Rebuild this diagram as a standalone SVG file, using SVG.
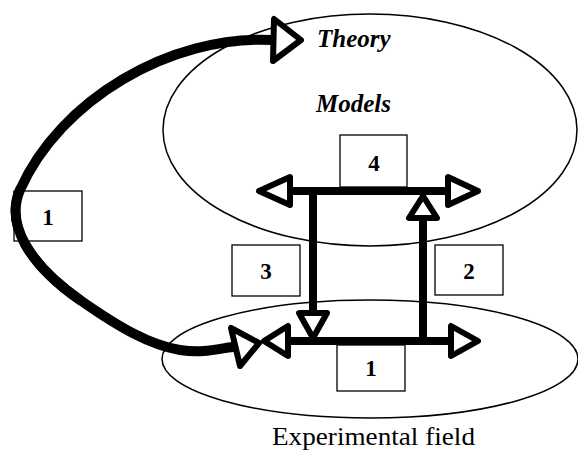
<svg xmlns="http://www.w3.org/2000/svg" width="578" height="451" viewBox="0 0 578 451">
<style>
.ell{fill:none;stroke:#000;stroke-width:1.5}
.box{fill:#fff;stroke:#000;stroke-width:1.3}
.num{font-family:'Liberation Serif',serif;font-weight:bold;font-size:23px;text-anchor:middle}
.lbl{font-family:'Liberation Serif',serif;font-weight:bold;font-style:italic;font-size:25px}
.ln{fill:none;stroke:#000;stroke-width:8}
.head{fill:#fff;stroke:#000;stroke-width:6;stroke-linejoin:round}
.curve{fill:none;stroke:#000;stroke-width:10;stroke-linecap:round}
</style>
<rect width="578" height="451" fill="#fff"/>
<g id="theory-field">
<ellipse class="ell" cx="370" cy="130" rx="207" ry="116"/>
<text class="lbl" x="317" y="47">Theory</text>
<text class="lbl" x="316" y="112">Models</text>
</g>
<g id="experimental-field">
<ellipse class="ell" cx="370" cy="359" rx="208" ry="59"/>
<text x="272" y="445" font-family="'Liberation Serif', serif" font-size="26" textLength="203" lengthAdjust="spacingAndGlyphs">Experimental field</text>
</g>
<g id="connectors">
<path class="curve" d="M272 40 C170 35 60 100 20 190 C5 225 30 265 80 300 C120 328 150 345 180 350 C205 354 220 348 240 346"/>
<polygon class="head" points="274,19 273,61 301,40"/>
<polygon class="head" points="231,328 240,366 259,343"/>
<line class="ln" x1="288" y1="191" x2="449" y2="191"/>
<line class="ln" x1="313" y1="191" x2="313" y2="313"/>
<line class="ln" x1="423" y1="341" x2="423" y2="218"/>
<line class="ln" x1="286" y1="341" x2="451" y2="341"/>
<polygon class="head" points="259,191 290,177 290,205"/>
<polygon class="head" points="478,191 448,177 448,205"/>
<polygon class="head" points="313,338 299,313 327,313"/>
<polygon class="head" points="423,196 409,218 437,218"/>
<polygon class="head" points="264,341 288,326 288,356"/>
<polygon class="head" points="478,341 451,326 451,356"/>
</g>
<g id="box4">
<rect class="box" x="340" y="135" width="67" height="52"/>
<text class="num" x="374" y="171">4</text>
</g>
<g id="box3">
<rect class="box" x="232" y="245" width="68" height="51"/>
<text class="num" x="266" y="279">3</text>
</g>
<g id="box2">
<rect class="box" x="435" y="245" width="68" height="50"/>
<text class="num" x="469" y="279">2</text>
</g>
<g id="box1-bottom">
<rect class="box" x="337" y="345" width="68" height="46"/>
<text class="num" x="371" y="376">1</text>
</g>
<g id="box1-left">
<rect class="box" x="14" y="191" width="68" height="50"/>
<text class="num" x="48" y="225">1</text>
</g>
<path class="curve" d="M20 190 C5 225 30 265 80 300"/>
</svg>
